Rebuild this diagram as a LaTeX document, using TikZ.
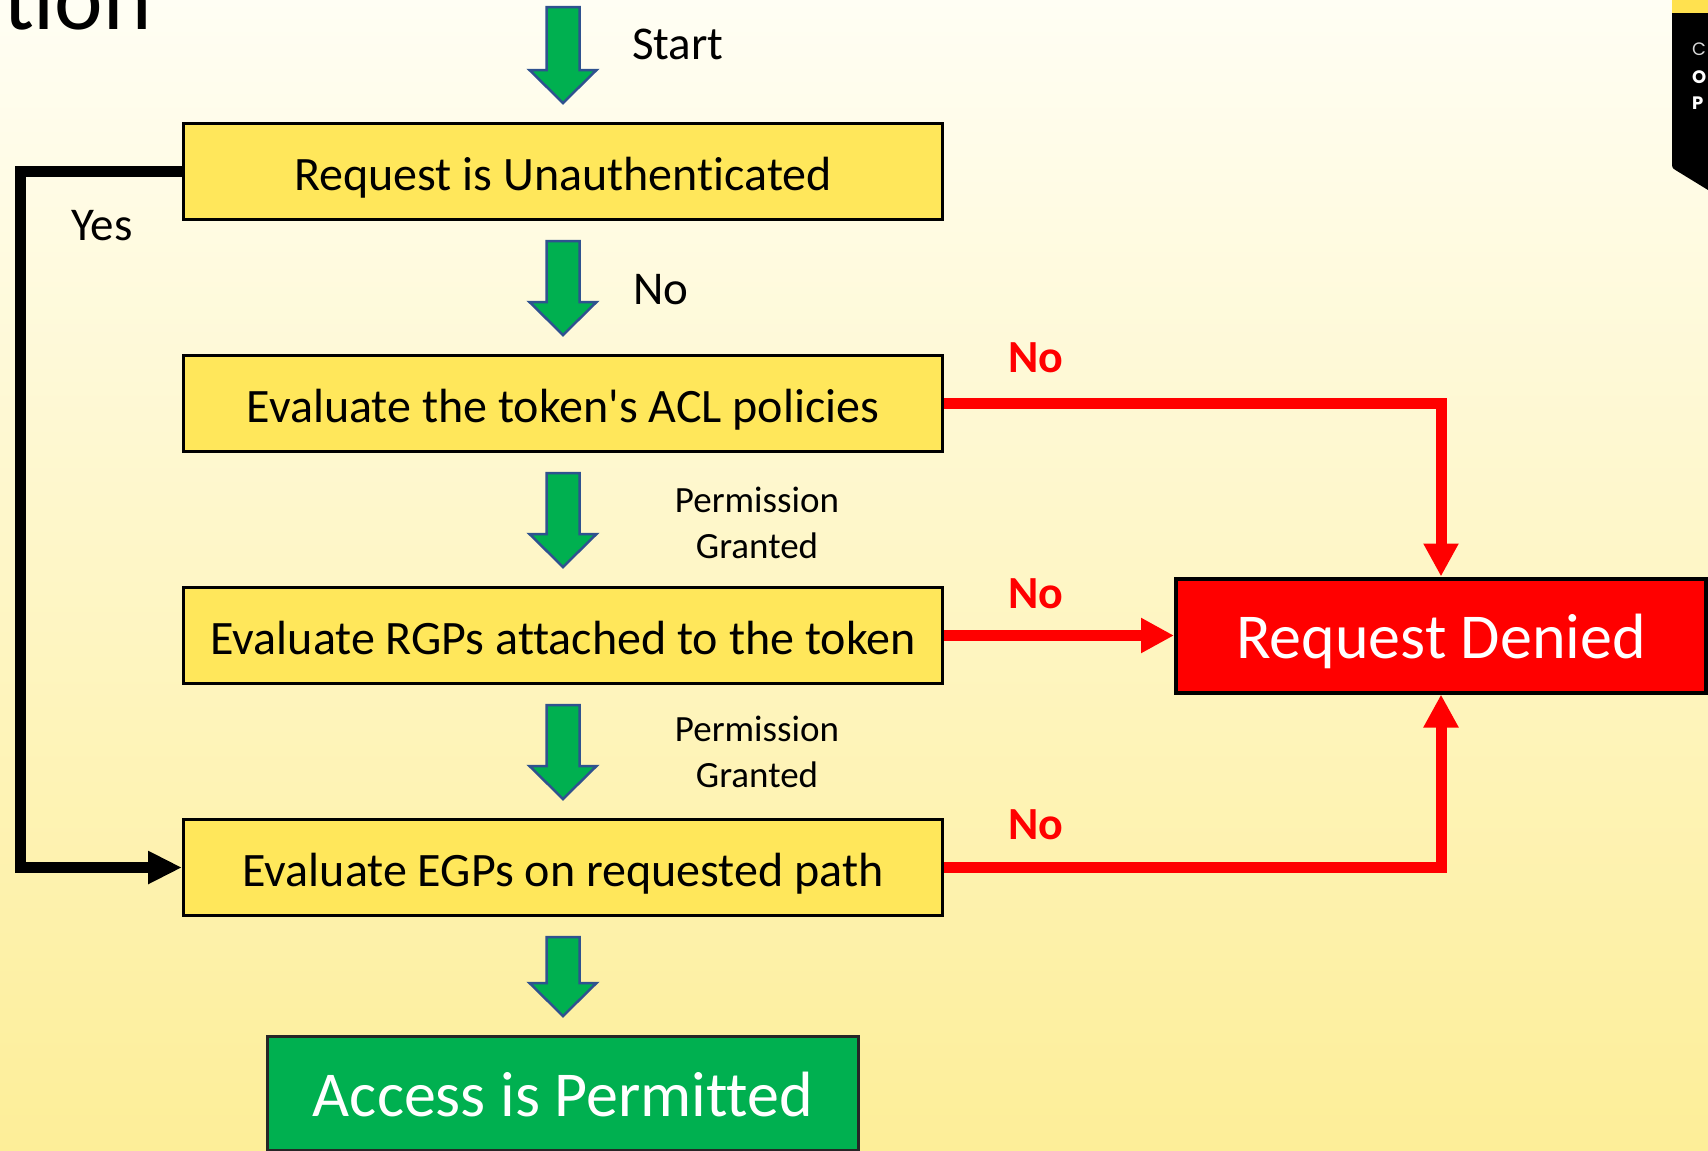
\documentclass[tikz,border=0pt]{standalone}
\usepackage{fontspec}
\setmainfont{Carlito}[Ligatures={TeX,NoCommon}]
\newfontfamily\tabfont{Poppins}
\usetikzlibrary{arrows.meta,calc}
\definecolor{boxyellow}{HTML}{FFE75B}
\definecolor{okgreen}{HTML}{00B050}
\definecolor{arrowblue}{HTML}{2F528F}
\definecolor{bgtop}{HTML}{FFFEF4}
\definecolor{bgbot}{HTML}{FDEE98}
\definecolor{tabyellow}{HTML}{FFE14F}
\definecolor{denyred}{HTML}{FF0000}
\tikzset{
  stepbox/.style={draw=black, line width=3pt, fill=boxyellow, minimum width=759pt,
    minimum height=96pt, inner sep=0pt, font=\fontsize{48}{56}\selectfont,
    text height=44pt, text depth=7pt},
  denybox/.style={draw=black, line width=4pt, fill=denyred, text=white,
    minimum width=530pt, minimum height=114pt, inner sep=0pt,
    font=\fontsize{64}{74}\selectfont, text height=54pt, text depth=9pt},
  okbox/.style={draw=black!85, line width=3pt, fill=okgreen, text=white,
    minimum width=591pt, minimum height=114pt, inner sep=0pt,
    font=\fontsize{64}{74}\selectfont, text height=55pt, text depth=9pt},
  lbl/.style={inner sep=0pt, font=\fontsize{47}{54}\selectfont},
  redlbl/.style={inner sep=0pt, text=denyred, font=\fontsize{46}{54}\selectfont\bfseries},
  smalllbl/.style={inner sep=0pt, font=\fontsize{37}{44}\selectfont},
  titletext/.style={inner sep=0pt, font=\fontsize{92}{100}\selectfont},
  tabletter/.style={inner sep=0pt, font=\tabfont\fontsize{18}{22}\selectfont},
  garrowstyle/.style={fill=okgreen, draw=arrowblue, line width=2.5pt, line join=miter},
  redconn/.style={draw=denyred, line width=11pt, line join=miter,
    -{Triangle[length=33pt,width=33pt]}},
  blackconn/.style={draw=black, line width=11pt, line join=miter,
    -{Triangle[length=34pt,width=31pt]}},
}
\newcommand\garrow[2]{%
  \path[garrowstyle] let \p1=#1, \p2=#2 in
    (\x1-16.5pt,\y1) -- (\x1+16.5pt,\y1) -- (\x1+16.5pt,\y2+33pt)
    -- (\x1+33.5pt,\y2+33pt) -- (\x1,\y2) -- (\x1-33.5pt,\y2+33pt)
    -- (\x1-16.5pt,\y2+33pt) -- cycle;}
\begin{document}
\begin{tikzpicture}[x=1pt,y=-1pt]
\useasboundingbox (0,0) rectangle (1708,1151);
\clip (0,0) rectangle (1708,1151);
\shade[shading angle=-40, top color=bgtop, bottom color=bgbot] (0,0) rectangle (1708,1151);

% cut-off title and side tab
\node[titletext, anchor=base east] (title) at (152,29) {ation};
\fill[tabyellow] (1672,0) rectangle (1708,13);
\fill[black] (1672,13) -- (1708,13) -- (1708,190) -- (1677,171)
  .. controls (1672,168) .. (1672,162) -- cycle;
\node[tabletter, anchor=base west, text=black!15] (tabc) at (1692,55) {C};
\node[tabletter, anchor=base west, text=white, font=\tabfont\fontsize{18}{22}\selectfont\bfseries] (tabo) at (1692,83) {O};
\node[tabletter, anchor=base west, text=white, font=\tabfont\fontsize{18}{22}\selectfont\bfseries] (tabp) at (1692,109) {P};

% boxes
\node[stepbox] (b1) at (563,171.5) {Request is Unauthenticated};
\node[stepbox] (b2) at (563,403.5) {Evaluate the token\textquotesingle s ACL policies};
\node[stepbox] (b3) at (563,635.5) {Evaluate RGPs attached to the token};
\node[stepbox] (b4) at (563,867.5) {Evaluate EGPs on requested path};
\node[denybox] (rd) at (1441,635.5) {Request Denied};
\node[okbox] (ok) at (563,1093.5) {Access is Permitted};

% green block arrows
\coordinate (s0) at (563,7);
\garrow{(s0)}{($(b1.north)+(0,-19)$)}
\garrow{($(b1.south)+(0,20)$)}{($(b2.north)+(0,-19)$)}
\garrow{($(b2.south)+(0,20)$)}{($(b3.north)+(0,-19)$)}
\garrow{($(b3.south)+(0,20)$)}{($(b4.north)+(0,-19)$)}
\garrow{($(b4.south)+(0,20)$)}{($(ok.north)+(0,-19)$)}

% connectors
\coordinate (yl) at (20.5,171.5);
\draw[blackconn] (b1.west) -- (yl) |- (b4.west);
\draw[redconn] (b2.east) -| (rd.north);
\draw[redconn] (b3.east) -- (rd.west);
\draw[redconn] (b4.east) -| (rd.south);

% labels
\node[lbl, anchor=base west] (lstart) at (632,59) {Start};
\node[lbl, anchor=base west] (lno) at (633,304) {No};
\node[lbl, anchor=base west] (lyes) at (71,240) {Yes};
\node[redlbl, anchor=base west] (n1) at (1008,372) {No};
\node[redlbl, anchor=base west] (n2) at (1008,608) {No};
\node[redlbl, anchor=base west] (n3) at (1008,839) {No};
\node[smalllbl, anchor=base] (p1) at (757,512) {Permission};
\node[smalllbl, anchor=base] (g1) at (757,558) {Granted};
\node[smalllbl, anchor=base] (p2) at (757,741) {Permission};
\node[smalllbl, anchor=base] (g2) at (757,787) {Granted};
\end{tikzpicture}
\end{document}
